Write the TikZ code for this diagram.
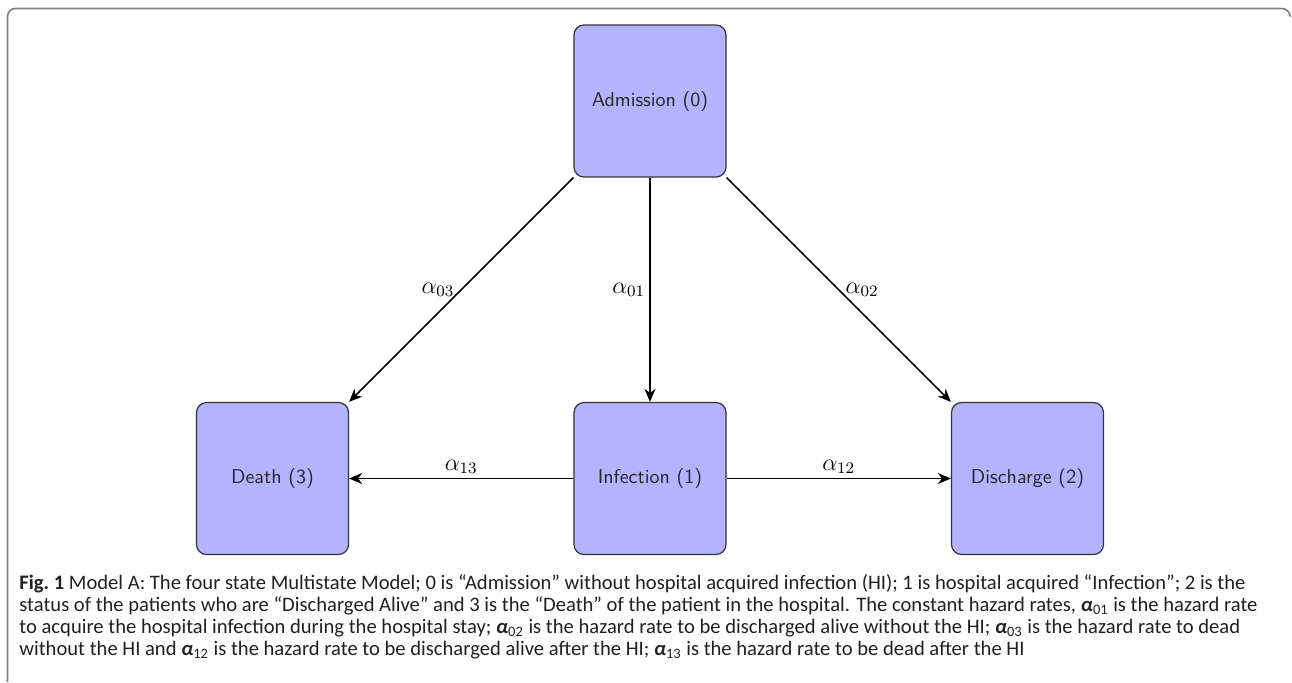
\documentclass[tikz,border=0pt]{standalone}
\usepackage{fontspec}
\newfontfamily\capfont{Carlito}
\usetikzlibrary{arrows.meta}
\definecolor{boxfill}{RGB}{179,179,255}
\definecolor{captxt}{RGB}{35,31,32}
\tikzset{
  statebox/.style={draw=black!80, line width=0.6pt, fill=boxfill, rounded corners=5pt,
    minimum width=76pt, minimum height=76pt, inner sep=0pt, font=\sffamily, text=black!85},
  trans/.style={-{Stealth[length=6.5pt,width=5.5pt,inset=2pt]}, line width=0.8pt, black},
  lab/.style={font=\large, inner sep=2pt},
  capline/.style={anchor=base west, inner sep=0pt, font=\capfont\fontsize{10.3}{11}\selectfont, text=captxt},
  frameline/.style={draw=black!50, line width=0.8pt}
}
\newcommand{\capalpha}[1]{{\bfseries\itshape α}\textsubscript{#1}}
\begin{document}
\begin{tikzpicture}[x=0.5pt,y=-0.5pt]
\useasboundingbox (0,0) rectangle (1292,682);
% frame
\draw[frameline, rounded corners=4pt] (7.5,682) -- (7.5,8.5) -- (1290,8.5) -- (1290,14);
% states
\node[statebox] (A) at (650,101) {Admission (0)};
\node[statebox] (D) at (272.5,478.5) {Death (3)};
\node[statebox] (I) at (650,478.5) {Infection (1)};
\node[statebox] (C) at (1027.5,478.5) {Discharge (2)};
% transitions
\draw[trans] (A.south west) -- node[lab, left, pos=0.5, xshift=-1pt] {$\alpha_{03}$} (D.north east);
\draw[trans] (A.south) -- node[lab, left, pos=0.5] {$\alpha_{01}$} (I.north);
\draw[trans] (A.south east) -- node[lab, right, pos=0.5, xshift=1pt] {$\alpha_{02}$} (C.north west);
\draw[trans] (I.west) -- node[lab, above, pos=0.5] {$\alpha_{13}$} (D.east);
\draw[trans] (I.east) -- node[lab, above, pos=0.5] {$\alpha_{12}$} (C.west);
% caption
\node[capline] (c1) at (19,589) {\textbf{Fig.~1} Model A: The four state Multistate Model; 0 is “Admission” without hospital acquired infection (HI); 1 is hospital acquired “Infection”; 2 is the};
\node[capline] (c2) at (19,611) {status of the patients who are “Discharged Alive” and 3 is the “Death” of the patient in the hospital. The constant hazard rates, \capalpha{01} is the hazard rate};
\node[capline] (c3) at (19,633) {to acquire the hospital infection during the hospital stay; \capalpha{02} is the hazard rate to be discharged alive without the HI; \capalpha{03} is the hazard rate to dead};
\node[capline] (c4) at (19,655) {without the HI and \capalpha{12} is the hazard rate to be discharged alive after the HI; \capalpha{13} is the hazard rate to be dead after the HI};
\end{tikzpicture}
\end{document}
